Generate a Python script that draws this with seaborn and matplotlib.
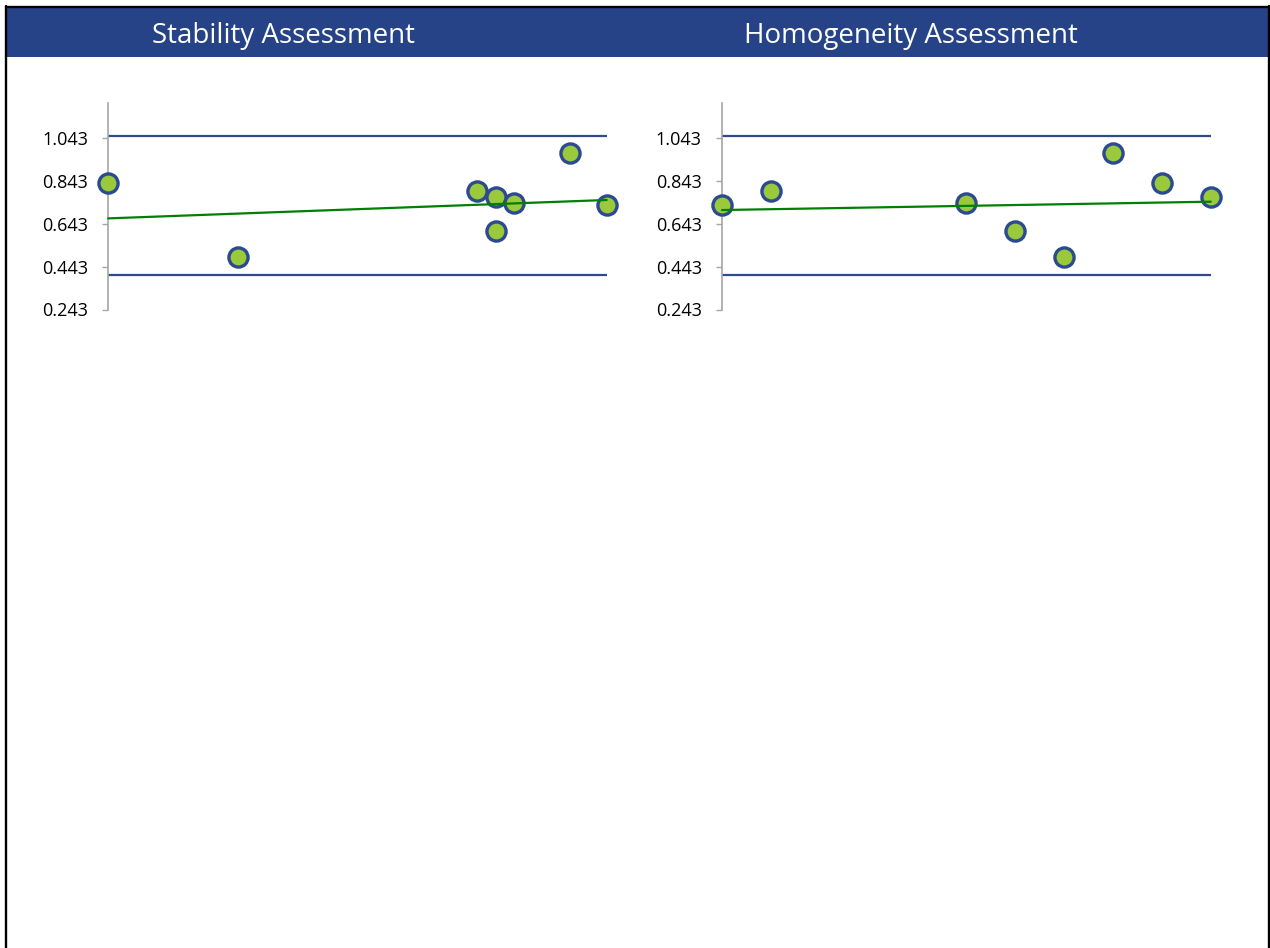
import matplotlib
matplotlib.use("Agg")
import matplotlib.pyplot as plt
from matplotlib.patches import Rectangle
from matplotlib.lines import Line2D
import seaborn as sns
import pandas as pd

# Stability study: measured values against elapsed time
stability_time = [0, 7, 20, 21, 21, 22, 25, 27]
stability_value = [0.835, 0.490, 0.799, 0.768, 0.609, 0.740, 0.973, 0.733]
stability_trend_x = [0, 27]
stability_trend_y = [0.669, 0.755]

# Homogeneity study: measured values by sample number
homogeneity_sample = [0, 1, 5, 6, 7, 8, 9, 10]
homogeneity_value = [0.733, 0.799, 0.740, 0.609, 0.490, 0.973, 0.835, 0.768]
homogeneity_trend_x = [0, 10]
homogeneity_trend_y = [0.708, 0.747]

# Control limits shared by both charts
upper_limit = 1.055
lower_limit = 0.403

y_ticks = [0.243, 0.443, 0.643, 0.843, 1.043]
y_range = (0.243, 1.207)

panel_titles = ["Stability Assessment", "Homogeneity Assessment"]

sns.set_style("white")
plt.rcParams["font.family"] = ["Open Sans", "DejaVu Sans"]

BAND = "#264387"
LIMIT = "#2E4A8C"
FILL = "#9ACA3C"
EDGE = "#2C4A8F"
TREND = "#008000"
AXIS_GRAY = "#A6A6A6"

fig = plt.figure(figsize=(12.7, 9.48), dpi=100)
fig.patch.set_facecolor("white")

W, H = 1270.0, 948.0

# Header band and frame
fig.patches.append(Rectangle((7.3 / W, 1 - 56.7 / H), (1267.7 - 7.3) / W, (56.7 - 8.3) / H,
                             transform=fig.transFigure, facecolor=BAND, edgecolor="none", zorder=0))
frame_kw = dict(transform=fig.transFigure, color="black", linewidth=1.7, zorder=5)
fig.lines.append(Line2D([6.2 / W, 6.2 / W], [0, 1 - 6.2 / H], **frame_kw))
fig.lines.append(Line2D([6.2 / W, 1268.8 / W], [1 - 7.2 / H, 1 - 7.2 / H], **frame_kw))
fig.lines.append(Line2D([1268.8 / W, 1268.8 / W], [0, 1 - 6.2 / H], **frame_kw))

fig.text(283.5 / W, 1 - 35.5 / H, panel_titles[0], color="white", fontsize=20,
         ha="center", va="center")
fig.text(911 / W, 1 - 35.5 / H, panel_titles[1], color="white", fontsize=20,
         ha="center", va="center")

bottom = 1 - 309.5 / H
height = (309.5 - 103.3) / H
ax_left = fig.add_axes([108.3 / W, bottom, (606.7 - 108.3) / W, height])
ax_right = fig.add_axes([722.0 / W, bottom, (1210.7 - 722.0) / W, height])

panels = [
    (ax_left, pd.DataFrame({"x": stability_time, "y": stability_value}),
     pd.DataFrame({"x": stability_trend_x, "y": stability_trend_y})),
    (ax_right, pd.DataFrame({"x": homogeneity_sample, "y": homogeneity_value}),
     pd.DataFrame({"x": homogeneity_trend_x, "y": homogeneity_trend_y})),
]

for ax, points, trend in panels:
    ax.set_facecolor("none")
    ax.axhline(upper_limit, color=LIMIT, linewidth=1.6, zorder=1)
    ax.axhline(lower_limit, color=LIMIT, linewidth=1.6, zorder=1)
    sns.scatterplot(data=points, x="x", y="y", ax=ax, s=190, color=FILL,
                    edgecolor=EDGE, linewidth=2.4, clip_on=False, zorder=3)
    sns.lineplot(data=trend, x="x", y="y", ax=ax, color=TREND, linewidth=1.6,
                 zorder=4, clip_on=False)
    ax.set_xlim(points["x"].min(), points["x"].max())
    ax.set_ylim(*y_range)
    ax.set_yticks(y_ticks)
    ax.set_yticklabels([f"{t:.3f}" for t in y_ticks])
    ax.set_xticks([])
    ax.set_xlabel("")
    ax.set_ylabel("")
    for side in ["top", "right", "bottom"]:
        ax.spines[side].set_visible(False)
    ax.spines["left"].set_color(AXIS_GRAY)
    ax.spines["left"].set_linewidth(1.2)
    ax.tick_params(axis="y", direction="out", length=4.5, width=1.0,
                   color=AXIS_GRAY, pad=10, labelsize=13, labelcolor="black", left=True)

fig.savefig("out.png", dpi=100, facecolor="white")
